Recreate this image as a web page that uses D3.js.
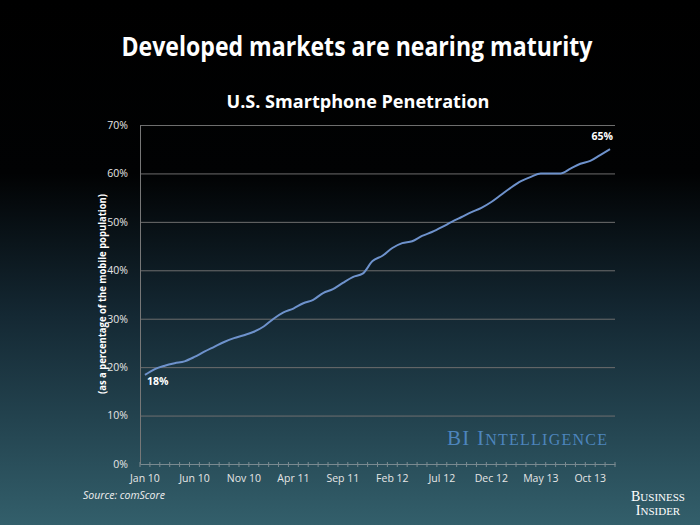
<!DOCTYPE html>
<html><head><meta charset="utf-8">
<script src="https://cdn.jsdelivr.net/npm/d3@7"></script>
<style>html,body{margin:0;padding:0;background:#000;}svg{display:block;}</style>
</head><body><svg id="c" width="700" height="525"></svg>
<script>
const months = ["Jan 10","Feb 10","Mar 10","Apr 10","May 10","Jun 10","Jul 10","Aug 10","Sep 10","Oct 10","Nov 10","Dec 10",
"Jan 11","Feb 11","Mar 11","Apr 11","May 11","Jun 11","Jul 11","Aug 11","Sep 11","Oct 11","Nov 11","Dec 11",
"Jan 12","Feb 12","Mar 12","Apr 12","May 12","Jun 12","Jul 12","Aug 12","Sep 12","Oct 12","Nov 12","Dec 12",
"Jan 13","Feb 13","Mar 13","Apr 13","May 13","Jun 13","Jul 13","Aug 13","Sep 13","Oct 13","Nov 13","Dec 13"];
const penetration = [18.4,19.6,20.3,20.8,21.2,22.1,23.2,24.2,25.2,26.0,26.6,27.3,
28.4,30.0,31.3,32.1,33.2,33.9,35.3,36.1,37.4,38.6,39.3,41.9,
43.0,44.6,45.6,46.0,47.1,47.9,48.9,50.0,51.0,52.0,52.9,54.1,
55.6,57.1,58.4,59.3,60.0,60.0,60.0,61.0,62.0,62.6,63.8,65.0];
const xTickLabels = ["Jan 10","Jun 10","Nov 10","Apr 11","Sep 11","Feb 12","Jul 12","Dec 12","May 13","Oct 13"];
const yTicks = [0,10,20,30,40,50,60,70];
const title = "Developed markets are nearing maturity";
const subtitle = "U.S. Smartphone Penetration";
const yTitle = "(as a percentage of the mobile population)";
const source = "Source: comScore";

const svg = d3.select("#c");
const defs = svg.append("defs");
const g = defs.append("linearGradient").attr("id","bg").attr("x1",0).attr("y1",0).attr("x2",0).attr("y2",1);
[[0,"#000000"],[0.33,"#010203"],[0.6,"#142833"],[0.8,"#23434f"],[1,"#335f6b"]].forEach(([o,c])=>g.append("stop").attr("offset",o).attr("stop-color",c));
svg.append("rect").attr("width",700).attr("height",525).attr("fill","url(#bg)");

const L=140,R=615,T=125,B=464;
const x = d3.scaleBand().domain(months).range([L,R]).padding(0);
const y = d3.scaleLinear().domain([0,70]).range([B,T]);
const font = "'Open Sans', sans-serif";

// titles
svg.append("text").attr("x",357).attr("y",56).attr("text-anchor","middle").attr("fill","#fff")
  .attr("font-family",font).attr("font-weight","bold").attr("font-size",26)
  .attr("textLength",471).attr("lengthAdjust","spacingAndGlyphs").text(title);
svg.append("text").attr("x",358).attr("y",108).attr("text-anchor","middle").attr("fill","#fff")
  .attr("font-family",font).attr("font-weight","bold").attr("font-size",18)
  .attr("textLength",263).attr("lengthAdjust","spacingAndGlyphs").text(subtitle);

// gridlines
svg.append("g").selectAll("line").data(yTicks.filter(d=>d>0)).join("line")
  .attr("x1",L).attr("x2",R).attr("y1",d=>y(d)+0.5).attr("y2",d=>y(d)+0.5)
  .attr("stroke","#6e6e6e").attr("stroke-width",1);

// y axis
const ya = svg.append("g").attr("transform",`translate(${L},0)`)
  .call(d3.axisLeft(y).tickValues(yTicks).tickSize(0).tickPadding(12).tickFormat(d=>d+"%"));
ya.select(".domain").attr("stroke","#777");
ya.selectAll("text").attr("fill","#e6e6e6").attr("font-family",font).attr("font-size",10.5);

// x axis
const xa = svg.append("g").attr("transform",`translate(0,${B})`)
  .call(d3.axisBottom(x).tickValues(xTickLabels).tickSize(0).tickPadding(11));
xa.select(".domain").attr("stroke","#7a8a90");
xa.selectAll("text").attr("fill","#e6e6e6").attr("font-family",font).attr("font-size",10.5);
// month boundary ticks
svg.append("g").selectAll("line").data(months.concat(["end"])).join("line")
  .attr("x1",(d,i)=>L+i*x.step()).attr("x2",(d,i)=>L+i*x.step())
  .attr("y1",B-2).attr("y2",B+3).attr("stroke","#7a8a90").attr("stroke-width",1);

// y title
svg.append("text").attr("transform","translate(106,294) rotate(-90)").attr("text-anchor","middle")
  .attr("fill","#fff").attr("font-family",font).attr("font-weight","bold").attr("font-size",10)
  .attr("textLength",200).attr("lengthAdjust","spacingAndGlyphs").text(yTitle);

// line
const line = d3.line().x((d,i)=>x(months[i])+x.bandwidth()/2).y(d=>y(d)).curve(d3.curveMonotoneX);
svg.append("path").datum(penetration).attr("d",line).attr("fill","none")
  .attr("stroke","#6e92cc").attr("stroke-width",2);

// data labels
const first = penetration[0], last = penetration[penetration.length-1];
svg.append("text").attr("x",x(months[0])+x.bandwidth()/2+2).attr("y",y(first)+10).attr("fill","#fff")
  .attr("font-family",font).attr("font-weight","bold").attr("font-size",10.5).text(Math.round(first)+"%");
svg.append("text").attr("x",x(months[47])+x.bandwidth()/2+3).attr("y",y(last)-9).attr("text-anchor","end").attr("fill","#fff")
  .attr("font-family",font).attr("font-weight","bold").attr("font-size",10.5).text(Math.round(last)+"%");

// BI Intelligence
const bi = svg.append("text").attr("x",447).attr("y",445).attr("fill","#4d85bd")
  .attr("font-family","'Liberation Serif', serif").attr("font-size",21)
  .attr("textLength",160).attr("lengthAdjust","spacing");
bi.append("tspan").text("BI I");
bi.append("tspan").attr("font-size",16).text("NTELLIGENCE");

// source
svg.append("text").attr("x",83).attr("y",499).attr("fill","#f0f0f0").attr("font-family",font)
  .attr("font-style","italic").attr("font-size",10.5).text(source);

// Business Insider logo
const bl = svg.append("g").attr("fill","#fff").attr("font-family","'Liberation Serif', serif").attr("text-anchor","middle");
const b1 = bl.append("text").attr("x",658).attr("y",501).attr("font-size",14);
b1.append("tspan").text("B"); b1.append("tspan").attr("font-size",11).text("USINESS");
const b2 = bl.append("text").attr("x",658).attr("y",515).attr("font-size",14);
b2.append("tspan").text("I"); b2.append("tspan").attr("font-size",11).text("NSIDER");
</script></body></html>
